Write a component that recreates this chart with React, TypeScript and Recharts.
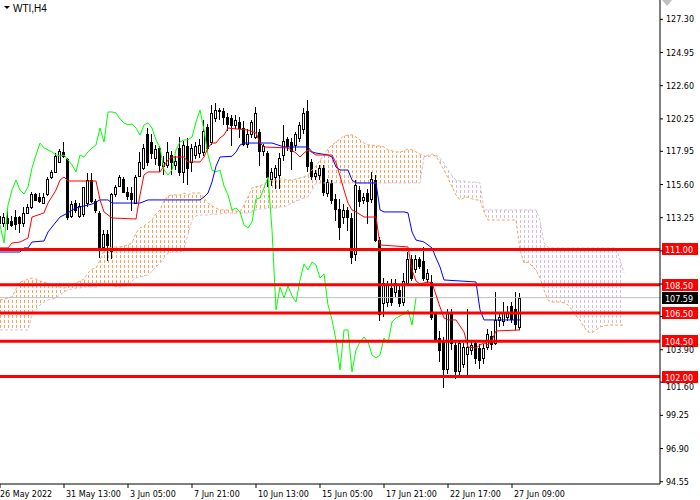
import React from "react";
import { ComposedChart, Area, Bar, Line, XAxis, YAxis, ReferenceLine } from "recharts";

// WTI H4 candles, one value per bar (bar 0 = 26 May 2022)
const OPEN = [
  113.4, 112.9, 113.2, 113.0, 113.3, 113.3, 112.9, 113.6, 114.0, 114.9,
  114.7, 114.3, 114.9, 116.1, 116.5, 117.2, 117.9, 117.4, 113.4, 114.3,
  113.4, 113.5, 114.3, 115.9, 114.4, 113.6, 111.2, 112.1, 110.9, 114.9,
  115.5, 116.0, 115.1, 115.0, 114.3, 116.2, 116.8, 119.2, 118.6, 117.5,
  118.2, 116.9, 117.0, 117.7, 117.0, 118.2, 116.5, 118.3, 117.2, 117.7,
  117.8, 117.9, 119.7, 118.6, 120.3, 120.9, 120.8, 120.4, 120.3, 119.8,
  120.0, 119.6, 118.5, 119.2, 119.0, 119.3, 118.0, 117.8, 116.0, 116.1,
  116.3, 117.7, 118.8, 118.6, 118.4, 118.9, 119.5, 120.8, 117.2, 116.2,
  116.3, 116.8, 115.0, 115.7, 114.6, 113.9, 113.3, 113.8, 113.2, 110.7,
  115.2, 114.5, 115.0, 114.6, 115.9, 111.7, 107.2, 107.3, 108.3, 108.0,
  108.1, 107.3, 108.6, 110.3, 109.6, 110.3, 110.2, 108.9, 108.7, 106.4,
  104.7, 104.6, 102.5, 106.5, 104.2, 102.4, 102.9, 103.6, 103.9, 104.4,
  104.0, 103.3, 104.1, 104.9, 104.4, 106.0, 105.9, 106.2, 107.0, 106.8,
  105.5,
];
const HIGH = [
  113.8, 113.6, 113.7, 113.4, 113.8, 113.4, 114.0, 114.2, 115.1, 115.0,
  115.0, 115.0, 116.1, 116.6, 117.8, 118.1, 118.6, 117.5, 114.4, 114.5,
  114.3, 115.4, 116.4, 116.4, 114.6, 113.7, 112.4, 112.4, 115.0, 115.6,
  116.3, 116.1, 115.4, 115.4, 116.3, 117.9, 118.5, 119.6, 119.2, 118.4,
  118.3, 117.6, 118.6, 118.0, 117.6, 119.0, 118.7, 118.9, 118.5, 118.6,
  118.8, 120.2, 119.9, 121.2, 121.4, 121.0, 121.0, 120.7, 120.5, 120.5,
  120.4, 120.1, 119.5, 120.2, 121.1, 119.5, 118.5, 118.0, 116.8, 117.0,
  117.8, 119.8, 119.0, 118.9, 119.3, 120.0, 121.0, 121.6, 117.4, 116.6,
  117.0, 117.0, 116.0, 115.9, 114.9, 114.6, 114.2, 114.0, 113.6, 115.9,
  115.5, 115.0, 115.3, 116.5, 116.3, 111.9, 109.0, 108.8, 108.9, 108.9,
  108.5, 109.3, 110.8, 110.6, 110.6, 110.5, 111.2, 109.6, 109.2, 106.6,
  105.2, 104.8, 106.8, 106.8, 104.5, 104.6, 104.4, 106.8, 104.6, 104.6,
  104.3, 104.3, 105.4, 105.2, 108.0, 106.5, 107.3, 107.0, 107.3, 108.0,
  107.9,
];
const LOW = [
  112.4, 112.6, 112.4, 112.6, 112.4, 112.2, 112.6, 113.5, 113.9, 114.4,
  114.3, 114.2, 114.8, 116.0, 116.4, 117.1, 117.5, 113.1, 113.2, 113.6,
  113.2, 113.3, 114.0, 114.3, 113.6, 110.4, 111.0, 110.2, 110.3, 114.7,
  115.4, 115.0, 114.5, 113.7, 114.2, 116.1, 116.6, 116.9, 117.4, 117.0,
  116.5, 116.3, 116.8, 116.3, 116.6, 116.2, 115.7, 115.6, 116.5, 117.4,
  117.5, 117.6, 118.0, 118.4, 120.0, 120.2, 119.8, 119.4, 118.3, 119.5,
  118.9, 118.3, 118.2, 118.9, 118.8, 116.9, 117.6, 115.4, 115.5, 115.3,
  115.3, 117.3, 118.0, 116.6, 118.0, 118.6, 119.2, 116.5, 115.9, 115.9,
  115.9, 114.8, 114.7, 114.2, 113.0, 111.7, 112.8, 112.3, 110.0, 110.2,
  114.0, 114.2, 112.8, 114.3, 111.5, 105.9, 106.2, 106.9, 107.0, 107.6,
  106.9, 107.0, 108.4, 108.8, 109.3, 109.6, 108.8, 108.6, 106.0, 104.5,
  103.0, 101.2, 102.2, 103.9, 101.8, 102.0, 102.6, 101.9, 103.5, 102.9,
  102.5, 102.9, 103.9, 103.9, 104.2, 105.5, 105.6, 105.9, 105.8, 105.3,
  105.3,
];
const CLOSE = [
  112.9, 113.3, 112.9, 112.7, 112.8, 112.9, 113.6, 114.0, 114.9, 114.5,
  114.4, 114.7, 116.0, 116.5, 117.6, 118.0, 117.6, 113.3, 114.2, 113.8,
  114.1, 115.4, 115.9, 114.4, 113.8, 111.0, 112.1, 111.3, 114.9, 115.4,
  116.1, 115.1, 114.8, 114.6, 116.1, 117.2, 118.2, 117.2, 117.8, 118.1,
  117.0, 117.2, 117.9, 117.2, 117.3, 116.5, 118.4, 116.8, 118.2, 118.3,
  118.4, 119.4, 118.2, 120.7, 120.9, 120.8, 120.4, 119.9, 119.8, 120.2,
  119.6, 118.5, 119.2, 120.0, 120.7, 118.0, 118.3, 116.1, 116.5, 116.8,
  117.5, 118.7, 118.3, 118.0, 119.2, 119.8, 120.7, 116.9, 116.2, 116.4,
  116.8, 115.1, 115.8, 114.5, 113.9, 112.6, 113.8, 113.3, 110.5, 115.6,
  114.4, 114.7, 114.4, 116.0, 111.7, 106.4, 108.6, 108.5, 107.3, 108.6,
  107.2, 108.8, 110.3, 109.0, 110.3, 109.8, 109.0, 109.3, 106.2, 104.6,
  103.9, 102.5, 106.6, 104.4, 102.4, 104.4, 104.1, 104.1, 104.2, 103.3,
  103.2, 104.0, 105.0, 104.3, 106.0, 106.2, 106.6, 106.5, 106.1, 105.7,
  107.59,
];

// Senkou span A / B (cloud runs 26 bars past the last candle)
const SPAN_A = [
  107.42, 107.49, 107.56, 107.64, 108.2, 108.7, 108.77, 108.91, 108.98, 108.91,
  108.77, 108.7, 108.56, 108.49, 108.41, 108.34, 108.27, 108.34, 108.49, 108.63,
  108.77, 108.91, 109.34, 109.62, 109.69, 110.26, 110.89, 111.11, 111.18, 111.18,
  111.18, 111.25, 111.32, 111.46, 112.17, 112.52, 112.66, 112.88, 113.09, 113.51,
  113.8, 114.43, 114.79, 114.86, 114.86, 114.86, 115.0, 114.86, 115.0, 115.0,
  115.0, 114.65, 114.29, 114.08, 113.94, 113.8, 113.8, 113.8, 113.8, 113.73,
  113.66, 114.15, 114.72, 115.36, 115.43, 115.5, 115.64, 115.78, 115.92, 115.92,
  115.99, 115.99, 115.92, 115.92, 115.99, 116.06, 116.13, 116.28, 116.63, 116.91,
  117.34, 117.69, 118.12, 118.4, 118.61, 118.83, 119.04, 119.11, 119.11, 118.97,
  118.75, 118.54, 118.4, 118.4, 118.33, 118.33, 118.26, 118.05, 117.98, 117.91,
  117.91, 117.98, 118.12, 118.05, 117.91, 117.76, 117.62, 117.55, 117.69, 117.62,
  117.13, 116.63, 116.06, 115.43, 114.86, 114.51, 114.65, 114.72, 114.58, 114.51,
  114.51, 113.66, 113.09, 113.09, 113.09, 113.09, 113.09, 113.09, 113.09, 113.09,
  110.96, 110.04, 110.11, 109.83, 109.55, 108.98, 108.13, 107.42, 107.28, 107.28,
  107.28, 107.21, 107.07, 106.72, 106.29, 106.01, 105.51, 105.16, 105.09, 105.3,
  105.51, 105.58, 105.65, 105.65, 105.65, 105.65, 105.65,
];
const SPAN_B = [
  105.3, 105.3, 105.3, 105.3, 105.3, 105.3, 105.3, 105.3, 106.36, 106.72,
  107.07, 107.28, 107.42, 107.49, 107.56, 107.78, 107.99, 108.13, 108.2, 108.27,
  108.27, 108.34, 108.34, 108.34, 108.34, 108.41, 108.41, 108.49, 108.49, 108.34,
  108.34, 108.41, 108.49, 108.77, 108.98, 109.05, 109.12, 109.19, 109.48, 109.76,
  110.04, 110.4, 110.75, 110.82, 110.82, 110.82, 110.96, 112.03, 113.09, 113.37,
  113.44, 113.44, 113.44, 113.51, 113.51, 113.51, 113.58, 113.58, 113.58, 113.58,
  113.58, 113.58, 113.58, 113.66, 113.8, 113.87, 113.87, 113.94, 113.94, 113.94,
  114.01, 114.01, 114.15, 114.29, 114.43, 114.51, 114.65, 114.72, 115.21, 115.71,
  115.71, 115.71, 115.71, 115.71, 115.71, 115.71, 115.71, 115.71, 115.71, 115.71,
  115.71, 115.71, 115.71, 115.71, 115.71, 115.71, 115.71, 115.71, 115.71, 115.71,
  115.71, 115.71, 115.71, 115.71, 115.71, 115.71, 117.55, 117.69, 117.76, 117.69,
  117.48, 117.13, 116.63, 116.21, 115.92, 115.85, 115.85, 115.78, 115.78, 115.78,
  115.71, 113.8, 113.8, 113.8, 113.8, 113.8, 113.8, 113.8, 113.8, 113.8,
  113.8, 113.8, 113.8, 113.8, 113.8, 113.09, 111.46, 111.18, 111.11, 111.11,
  111.11, 111.11, 111.11, 111.11, 111.11, 111.11, 111.11, 111.11, 111.11, 111.11,
  111.11, 111.11, 111.11, 111.11, 111.11, 110.26, 109.34,
];

// Chikou span (green), drawn 26 bars back
const CHIKOU = [
  112.74, 111.46, 114.15, 115.21, 115.92, 115.21, 114.93, 115.43, 116.77, 117.69,
  118.54, 118.19, 118.05, 117.91, 117.69, 117.62, 117.69, 117.34, 116.99, 116.49,
  117.69, 117.55, 117.91, 118.19, 118.4, 119.6, 118.61, 120.74, 120.74, 120.67,
  120.24, 119.96, 119.82, 119.89, 119.6, 119.11, 119.82, 119.96, 119.6, 118.76,
  118.19, 116.63, 116.28, 116.63, 118.05, 118.61, 118.76, 118.76, 118.97, 120.03,
  120.88, 119.46, 117.69, 116.63, 116.49, 116.63, 115.5, 114.86, 113.8, 113.94,
  113.66, 112.74, 112.52, 112.95, 114.58, 114.65, 115.36, 116.13, 112.38, 106.72,
  108.34, 107.57, 108.42, 107.71, 107.28, 108.84, 109.97, 109.55, 110.12, 109.9,
  108.98, 109.27, 107.07, 106.01, 104.59, 102.47, 105.3, 105.3, 102.33, 103.88,
  104.45, 104.8, 104.45, 103.53, 103.32, 103.53, 104.73, 104.38, 105.87, 106.15,
  106.29, 106.43, 106.72, 105.65, 107.56,
];

// Tenkan-sen (red) and Kijun-sen (blue): [bar, price] where the line turns
const TENKAN = [
  [0, 111.11], [2, 111.11], [3, 111.46], [5, 111.53], [7, 111.81], [8, 113.3],
  [11, 113.59], [12, 114.29], [14, 115.21], [15, 115.92], [16, 116.13], [17, 115.85],
  [24, 115.85], [25, 114.51], [26, 113.66], [28, 113.23], [34, 113.16], [35, 114.86],
  [36, 116.28], [37, 116.49], [40, 116.49], [42, 117.34], [43, 117.55], [46, 117.55],
  [47, 117.2], [50, 117.2], [51, 117.55], [52, 118.19], [53, 118.54], [54, 118.54],
  [55, 118.9], [56, 119.11], [57, 119.6], [62, 119.46], [64, 119.25], [65, 118.54],
  [66, 118.26], [72, 118.19], [74, 117.83], [75, 117.55], [76, 117.83], [77, 118.05],
  [79, 117.69], [83, 117.69], [84, 117.13], [85, 116.2], [86, 115.21], [87, 114.29],
  [88, 113.8], [89, 113.66], [91, 113.3], [94, 113.3], [95, 111.32], [102, 111.18],
  [103, 109.55], [104, 108.77], [105, 108.56], [107, 108.7], [108, 108.63], [109, 107.78],
  [110, 106.93], [111, 106.15], [112, 106.01], [114, 106.01], [115, 105.58], [116, 105.16],
  [117, 104.09], [119, 104.02], [120, 104.24], [121, 104.38], [122, 104.24], [123, 104.59],
  [124, 105.23], [130, 105.3],
];
const KIJUN = [
  [0, 110.82], [5, 110.82], [6, 111.11], [7, 111.11], [8, 111.53], [11, 111.6],
  [12, 112.24], [14, 112.95], [15, 113.3], [17, 113.59], [18, 113.8], [19, 113.94],
  [21, 114.08], [23, 114.22], [24, 114.36], [25, 114.51], [27, 114.51], [28, 114.29],
  [35, 114.29], [37, 114.51], [50, 114.51], [51, 114.72], [52, 115.0], [53, 115.78],
  [54, 116.9], [55, 117.55], [58, 117.6], [59, 117.9], [60, 118.4], [61, 118.54],
  [68, 118.54], [71, 118.26], [77, 118.26], [78, 117.91], [79, 117.83], [82, 117.69],
  [83, 117.55], [84, 116.84], [85, 116.63], [87, 116.63], [88, 115.92], [89, 115.71],
  [94, 115.71], [95, 113.8], [96, 113.66], [101, 113.66], [102, 113.59], [103, 112.24],
  [104, 111.67], [106, 111.53], [107, 111.32], [108, 111.11], [109, 110.4], [110, 109.76],
  [111, 108.84], [119, 108.7], [120, 106.72], [121, 106.01], [130, 106.01],
];

const LEVELS = [111.0, 108.5, 106.5, 104.5, 102.0];
const LAST_PRICE = 107.59;
const PRICE_TICKS = [
  127.3, 124.95, 122.6, 120.25, 117.95, 115.6, 113.25, 110.9, 108.55, 106.25,
  103.9, 101.6, 99.25, 96.9, 94.55,
];
const COVERED_TICKS = [110.9, 108.55, 106.25];
const TIME_TICKS = [0, 16, 32, 48, 64, 80, 96, 112, 128];
const TIME_LABELS = [
  "26 May 2022", "31 May 13:00", "3 Jun 05:00", "7 Jun 21:00", "10 Jun 13:00",
  "15 Jun 05:00", "17 Jun 21:00", "22 Jun 17:00", "27 Jun 09:00",
];

const FONT = "DejaVu Sans";
const SANDY = "#F4A460";
const THISTLE = "#D8BFD8";

const rows: any[] = SPAN_A.map((a, i) => {
  const b = SPAN_B[i];
  const prevUp = i > 0 ? SPAN_A[i - 1] >= SPAN_B[i - 1] : a >= b;
  const nextUp = i < SPAN_A.length - 1 ? SPAN_A[i + 1] >= SPAN_B[i + 1] : a >= b;
  const up = a >= b;
  // bars at a colour change belong to both bands so the hatching has no hole
  return {
    i,
    spanA: a,
    spanB: b,
    sandy: up || prevUp || nextUp ? [Math.min(a, b), Math.max(a, b)] : null,
    thistle: !up || !prevUp || !nextUp ? [Math.min(a, b), Math.max(a, b)] : null,
    o: OPEN[i],
    h: HIGH[i],
    l: LOW[i],
    c: CLOSE[i],
    chikou: CHIKOU[i],
  };
});
TENKAN.forEach(([i, v]) => (rows[i].tenkan = v));
KIJUN.forEach(([i, v]) => (rows[i].kijun = v));

function Candle(props: any) {
  const { x, y, width, height, payload } = props;
  if (payload == null || payload.h == null || !isFinite(y) || !isFinite(height)) return <g />;
  const cx = Math.floor(x + width / 2) + 0.5;
  const top = Math.min(y, y + height);
  const span = Math.abs(height);
  const range = payload.h - payload.l || 1;
  const py = (v: number) => top + ((payload.h - v) / range) * span;
  const yo = py(payload.o);
  const yc = py(payload.c);
  const up = payload.c >= payload.o;
  const bt = Math.round(Math.min(yo, yc));
  const bb = Math.round(Math.max(yo, yc));
  return (
    <g shapeRendering="crispEdges">
      <line x1={cx} x2={cx} y1={Math.round(top)} y2={Math.round(top + span)} stroke="#000" />
      {bb - bt < 1 ? (
        <line x1={cx - 1.5} x2={cx + 1.5} y1={bt + 0.5} y2={bt + 0.5} stroke="#000" />
      ) : (
        <rect x={cx - 1} y={bt + 0.5} width={2} height={bb - bt} fill={up ? "#fff" : "#000"} stroke="#000" />
      )}
    </g>
  );
}

function PriceTag(props: any) {
  const { viewBox, text, fill } = props;
  if (!viewBox) return null;
  const x = viewBox.x + viewBox.width + 2;
  const y = Math.round(viewBox.y);
  return (
    <g>
      <rect x={x} y={y - 6} width={36} height={12} fill={fill} />
      <text x={x + 3} y={y + 3.5} fontSize={8} fontFamily={FONT} fill="#fff">
        {text}
      </text>
    </g>
  );
}

function PriceTick(props: any) {
  const { y, payload } = props;
  if (COVERED_TICKS.includes(payload.value)) return <g />;
  // a label sitting just under a level tag is pushed clear of it
  const nudge = payload.value === 101.6 ? 5 : 0;
  return (
    <text x={666} y={y + 3 + nudge} fontSize={8} fontFamily={FONT} fill="#000">
      {payload.value.toFixed(2)}
    </text>
  );
}

function TimeTick(props: any) {
  const { x, payload } = props;
  const k = TIME_TICKS.indexOf(payload.value);
  return (
    <text x={x + (k === 0 ? 0 : 2)} y={497} fontSize={8} fontFamily={FONT} fill="#000">
      {TIME_LABELS[k]}
    </text>
  );
}

export default function App() {
  return (
    <div style={{ position: "absolute", left: 0, top: 0, width: 700, height: 500, background: "#fff" }}>
      <ComposedChart width={700} height={500} data={rows} margin={{ top: 0, right: 0, bottom: 0, left: 0 }}>
        <defs>
          <pattern id="hatchSandy" x="0" y="0" width="4" height="5" patternUnits="userSpaceOnUse">
            <rect x="0" y="0" width="1" height="3" fill={SANDY} />
          </pattern>
          <pattern id="hatchThistle" x="0" y="0" width="4" height="5" patternUnits="userSpaceOnUse">
            <rect x="0" y="0" width="1" height="3" fill={THISTLE} />
          </pattern>
        </defs>
        <XAxis
          dataKey="i"
          type="number"
          domain={[0, 165]}
          allowDataOverflow
          ticks={TIME_TICKS}
          interval={0}
          height={16}
          tickSize={4}
          tick={<TimeTick />}
          axisLine={{ stroke: "#000" }}
          tickLine={{ stroke: "#000" }}
        />
        <YAxis
          orientation="right"
          type="number"
          domain={[94.39, 128.67]}
          allowDataOverflow
          ticks={PRICE_TICKS}
          interval={0}
          width={40}
          tickSize={3}
          tick={<PriceTick />}
          axisLine={{ stroke: "#000" }}
          tickLine={{ stroke: "#000" }}
        />
        <Area
          dataKey="sandy"
          type="linear"
          stroke="none"
          fill="url(#hatchSandy)"
          fillOpacity={1}
          isAnimationActive={false}
        />
        <Area
          dataKey="thistle"
          type="linear"
          stroke="none"
          fill="url(#hatchThistle)"
          fillOpacity={1}
          isAnimationActive={false}
        />
        <Line dataKey="spanA" stroke={SANDY} strokeDasharray="3 2" dot={false} isAnimationActive={false} />
        <Line dataKey="spanB" stroke={THISTLE} strokeDasharray="3 2" dot={false} isAnimationActive={false} />
        <ReferenceLine
          y={LAST_PRICE}
          stroke="#C0C0C0"
          strokeWidth={1}
          label={<PriceTag text={LAST_PRICE.toFixed(2)} fill="#000" />}
        />
        <Bar
          dataKey={(d: any) => (d.h == null ? null : [d.l, d.h])}
          barSize={3}
          shape={<Candle />}
          isAnimationActive={false}
        />
        <Line dataKey="chikou" stroke="#00FF00" strokeWidth={1} dot={false} connectNulls isAnimationActive={false} />
        <Line dataKey="kijun" stroke="#0000FF" strokeWidth={1} dot={false} connectNulls isAnimationActive={false} />
        <Line dataKey="tenkan" stroke="#FF0000" strokeWidth={1} dot={false} connectNulls isAnimationActive={false} />
        {LEVELS.map((v) => (
          <ReferenceLine
            key={v}
            y={v}
            stroke="#FF0000"
            strokeWidth={3}
            label={<PriceTag text={v.toFixed(2)} fill="#FF0000" />}
          />
        ))}
      </ComposedChart>
      <svg width={700} height={20} style={{ position: "absolute", left: 0, top: 0 }}>
        <polygon points="4,6 10,6 7,9" fill="#000" />
        <text x={13} y={12} fontSize={10} fontFamily="Liberation Sans" fill="#000">
          WTI,H4
        </text>
        <polygon points="662,0 672,0 667,6" fill="#C0C0C0" />
      </svg>
    </div>
  );
}
